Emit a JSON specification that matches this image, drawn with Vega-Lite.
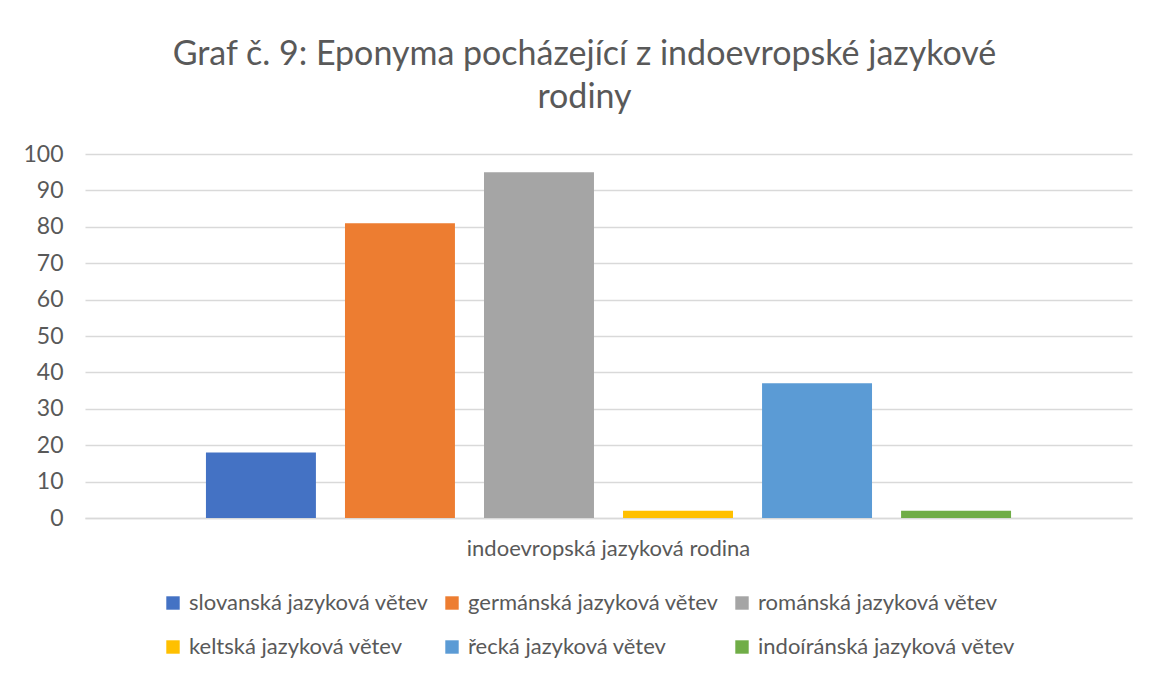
{
  "$schema": "https://vega.github.io/schema/vega-lite/v6.json",
  "width": 1047,
  "height": 364,
  "autosize": "none",
  "padding": {"left": 85, "top": 154, "right": 17, "bottom": 157},
  "background": "white",
  "title": {
    "text": ["Graf č. 9: Eponyma pocházející z indoevropské jazykové", "rodiny"],
    "fontSize": 34,
    "font": "Lato",
    "fontWeight": "normal",
    "color": "#595959",
    "lineHeight": 43,
    "offset": 28,
    "dx": -24,
    "anchor": "middle"
  },
  "data": {
    "values": [
      {"rodina": "indoevropská jazyková rodina", "vetev": "slovanská jazyková větev", "pocet": 18},
      {"rodina": "indoevropská jazyková rodina", "vetev": "germánská jazyková větev", "pocet": 81},
      {"rodina": "indoevropská jazyková rodina", "vetev": "románská jazyková větev", "pocet": 95},
      {"rodina": "indoevropská jazyková rodina", "vetev": "keltská jazyková větev", "pocet": 2},
      {"rodina": "indoevropská jazyková rodina", "vetev": "řecká jazyková větev", "pocet": 37},
      {"rodina": "indoevropská jazyková rodina", "vetev": "indoíránská jazyková větev", "pocet": 2}
    ]
  },
  "mark": {"type": "bar"},
  "encoding": {
    "x": {
      "field": "rodina",
      "type": "nominal",
      "scale": {"paddingInner": 0, "paddingOuter": 0},
      "axis": {
        "title": null,
        "labelAngle": 0,
        "labelFontSize": 22,
        "labelFont": "Lato",
        "labelColor": "#595959",
        "labelPadding": 20,
        "labelLimit": 600,
        "ticks": false,
        "domainColor": "#D9D9D9",
        "domainWidth": 1.5
      }
    },
    "xOffset": {
      "field": "vetev",
      "type": "nominal",
      "sort": ["slovanská jazyková větev", "germánská jazyková větev", "románská jazyková větev", "keltská jazyková větev", "řecká jazyková větev", "indoíránská jazyková větev"],
      "scale": {"paddingInner": 0.209, "paddingOuter": 0.87}
    },
    "y": {
      "field": "pocet",
      "type": "quantitative",
      "scale": {"domain": [0, 100]},
      "axis": {
        "title": null,
        "values": [0, 10, 20, 30, 40, 50, 60, 70, 80, 90, 100],
        "labelFontSize": 23,
        "labelFont": "Lato",
        "labelColor": "#595959",
        "labelPadding": 22,
        "ticks": false,
        "domain": false,
        "gridColor": "#D9D9D9",
        "gridWidth": 1.5
      }
    },
    "color": {
      "field": "vetev",
      "type": "nominal",
      "sort": ["slovanská jazyková větev", "germánská jazyková větev", "románská jazyková větev", "keltská jazyková větev", "řecká jazyková větev", "indoíránská jazyková větev"],
      "scale": {
        "domain": ["slovanská jazyková větev", "germánská jazyková větev", "románská jazyková větev", "keltská jazyková větev", "řecká jazyková větev", "indoíránská jazyková větev"],
        "range": ["#4472C4", "#ED7D31", "#A5A5A5", "#FFC000", "#5B9BD5", "#70AD47"]
      },
      "legend": {
        "title": null,
        "orient": "none",
        "legendX": 77,
        "legendY": 438,
        "direction": "horizontal",
        "columns": 3,
        "symbolType": "square",
        "symbolSize": 180,
        "symbolStrokeWidth": 0,
        "labelFontSize": 22,
        "labelFont": "Lato",
        "labelColor": "#595959",
        "labelOffset": 5,
        "columnPadding": 12,
        "rowPadding": 22,
        "labelLimit": 400
      }
    }
  },
  "config": {
    "view": {"stroke": null},
    "axis": {"gridOpacity": 1}
  }
}
